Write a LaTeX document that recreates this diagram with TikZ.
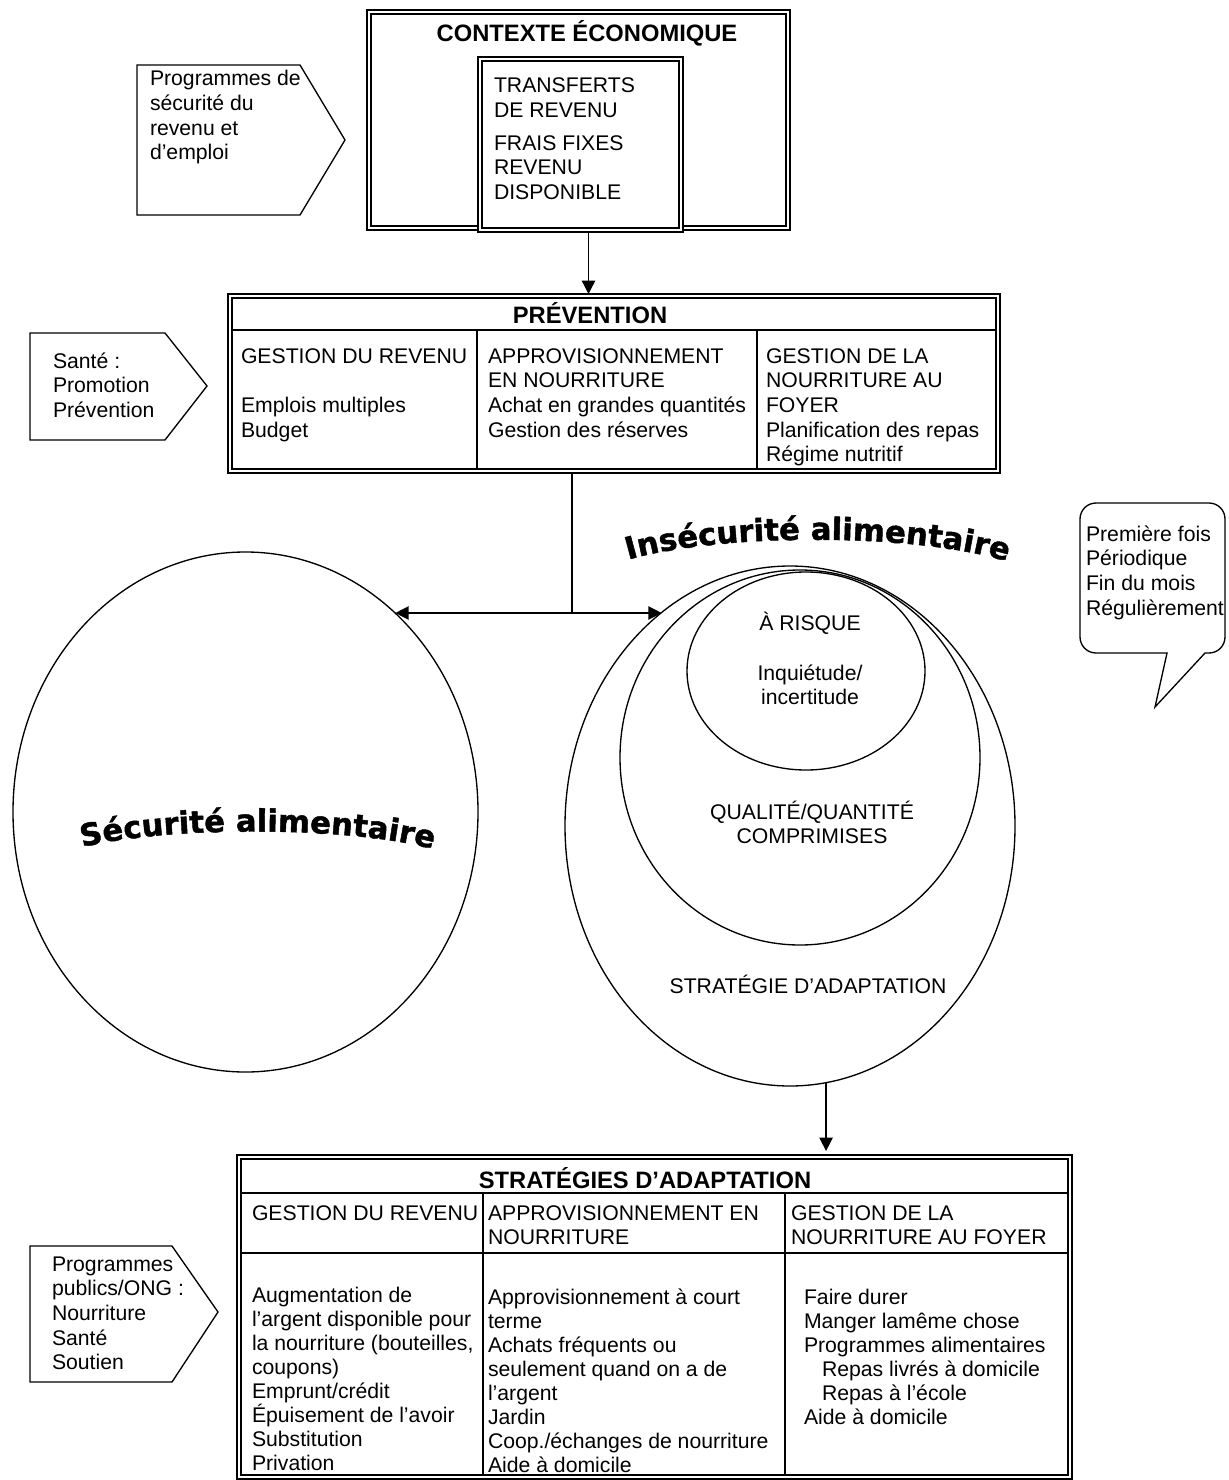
\documentclass[tikz,border=0pt]{standalone}
\usepackage{fontspec}
\setmainfont{Liberation Sans}
\newfontfamily\curvefont[FakeBold=1.5]{DejaVu Sans Bold}
\usetikzlibrary{arrows.meta,shapes.geometric,decorations.text,fit,calc}
\newcommand\bodyfont{\fontsize{15.9pt}{18.5pt}\selectfont}
\newcommand\tablefont{\fontsize{15.9pt}{18pt}\selectfont}
\newcommand\titlefont{\fontsize{17.8pt}{21pt}\selectfont\bfseries}
\newcommand\tstrut{\rule{0pt}{15pt}}
\begin{document}
\begin{tikzpicture}[x=0.75pt,y=-0.75pt,
  line/.style={line width=1pt},
  obox/.style={draw,line width=2.2pt,inner sep=0pt,outer sep=0pt},
  inline/.style={line width=0.9pt},
  arr/.style={line width=1pt,-{Triangle[length=10pt,width=10pt]}},
  body/.style={font=\bodyfont,inner sep=0pt,outer sep=0pt,align=left,anchor=north west},
  tbody/.style={font=\tablefont,inner sep=0pt,outer sep=0pt,align=left,anchor=north west},
  cbody/.style={font=\bodyfont,inner sep=0pt,outer sep=0pt,align=center,anchor=north},
  ttl/.style={font=\titlefont,inner sep=0pt,outer sep=0pt,anchor=base},
  circ/.style={draw,ellipse,line width=1pt,inner sep=0pt,outer sep=0pt},
  curved/.style={decorate,decoration={text along path,text align=center,
    text={|\curvefont\fontsize{23pt}{23pt}\selectfont|#1}}}]
\useasboundingbox (0,0) rectangle (1228,1480);

% ---------- top box ----------
\node[obox,fit={(367,10) (790,230)}] (ctx) {};
\draw[inline] ([shift={(4,4)}]ctx.north west) rectangle ([shift={(-4,-4)}]ctx.south east);
\node[ttl] (tctx) at (587,42) {CONTEXTE ÉCONOMIQUE};
\node[obox,fill=white,fit={(478,57) (683,232)}] (inbox) {};
\draw[inline] ([shift={(4,4)}]inbox.north west) rectangle ([shift={(-4,-4)}]inbox.south east);
\node[body] (tin) at (494,73) {\tstrut TRANSFERTS\\DE REVENU\\[6pt]FRAIS FIXES\\REVENU\\DISPONIBLE};

% pentagon 1
\draw[line] (137,65) -- (300,65) -- (345,140) -- (300,215) -- (137,215) -- cycle;
\node[body] (tp1) at (150,66) {\tstrut Programmes de\\sécurité du\\revenu et\\d’emploi};

% ---------- prevention ----------
\node[obox,fit={(228,294) (1000,473)}] (prev) {};
\draw[inline] ([shift={(4,4)}]prev.north west) rectangle ([shift={(-4,-4)}]prev.south east);
\draw[inline] (232,330) -- (996,330);
\draw[inline] (477,330) -- (477,469);
\draw[inline] (757,330) -- (757,469);
\node[ttl] (tprev) at (590,323) {PRÉVENTION};
\node[body] (pc1) at (241,343) {\tstrut GESTION DU REVENU\\[18.5pt]Emplois multiples\\Budget};
\node[body] (pc2) at (488,343) {\tstrut APPROVISIONNEMENT\\EN NOURRITURE\\Achat en grandes quantités\\Gestion des réserves};
\node[body] (pc3) at (766,343) {\tstrut GESTION DE LA\\NOURRITURE AU\\FOYER\\Planification des repas\\Régime nutritif};

% pentagon 2
\draw[line] (30,333) -- (165,333) -- (207,386) -- (165,440) -- (30,440) -- cycle;
\node[body] (tp2) at (53,348) {\tstrut Santé :\\Promotion\\Prévention};

\draw[arr] ([xshift=6pt]inbox.south) -- ([xshift=6pt]inbox.south |- prev.north);

% ---------- circles ----------
\node[circ,minimum width=348.75pt,minimum height=390pt] (lc) at (245.5,812) {};
\node[circ,minimum width=337.5pt,minimum height=390pt] (oc) at (790,826) {};
\node[circ,minimum width=270pt,minimum height=281.25pt] (mc) at (800,757.5) {};
\node[circ,minimum width=178.5pt,minimum height=148.5pt] (ic) at (806,671) {};

\coordinate (jn) at (572,613);
\draw[line] (jn |- prev.south) -- (jn);
\draw[arr] (jn) -- (jn -| lc.53);
\draw[arr] (jn) -- (jn -| oc.121);

\path[curved={Sécurité alimentaire}]
  (72,850) .. controls (155,825) and (360,825) .. (443,852);
\path[curved={Insécurité alimentaire}]
  (605,568) .. controls (690,530) and (945,530) .. (1030,570);

\node[font=\bodyfont,inner sep=0pt,anchor=base] (trisk) at (810,630) {À RISQUE};
\node[cbody] (tinq) at (810,660) {\tstrut Inquiétude/\\incertitude};
\node[cbody] (tqual) at (812,799) {\tstrut QUALITÉ/QUANTITÉ\\COMPRIMISES};
\node[font=\bodyfont,inner sep=0pt,anchor=base] (tstrat) at (808,993) {STRATÉGIE D’ADAPTATION};

% ---------- speech bubble ----------
\draw[line] (1080,637) -- (1080,519) arc[start angle=180,end angle=270,radius=16]
  -- (1209,503) arc[start angle=270,end angle=360,radius=16]
  -- (1225,637) arc[start angle=0,end angle=90,radius=16]
  -- (1205,653) -- (1155,707) -- (1167,653)
  -- (1096,653) arc[start angle=90,end angle=180,radius=16] -- cycle;
\node[body] (tbub) at (1086,521) {\tstrut Première fois\\Périodique\\Fin du mois\\Régulièrement};

% ---------- strategies table ----------
\node[obox,fit={(237,1155) (1072,1479)}] (strat) {};
\draw[inline] ([shift={(4,4)}]strat.north west) rectangle ([shift={(-4,-4)}]strat.south east);
\draw[inline] (241,1193) -- (1068,1193);
\draw[inline] (241,1253) -- (1068,1253);
\draw[inline] (483,1193) -- (483,1475);
\draw[inline] (785,1193) -- (785,1475);
\node[ttl] (tstr) at (645,1188) {STRATÉGIES D’ADAPTATION};
\node[body] (h1) at (252,1200) {\tstrut GESTION DU REVENU};
\node[body] (h2) at (488,1200) {\tstrut APPROVISIONNEMENT EN\\NOURRITURE};
\node[body] (h3) at (791,1200) {\tstrut GESTION DE LA\\NOURRITURE AU FOYER};
\node[tbody] (b1) at (252,1282) {\tstrut Augmentation de\\l’argent disponible pour\\la nourriture (bouteilles,\\coupons)\\Emprunt/crédit\\Épuisement de l’avoir\\Substitution\\Privation};
\node[tbody] (b2) at (488,1284) {\tstrut Approvisionnement à court\\terme\\Achats fréquents ou\\seulement quand on a de\\l’argent\\Jardin\\Coop./échanges de nourriture\\Aide à domicile};
\node[tbody] (b3) at (804,1284) {\tstrut Faire durer\\Manger lamême chose\\Programmes alimentaires\\\hspace*{13.5pt}Repas livrés à domicile\\\hspace*{13.5pt}Repas à l’école\\Aide à domicile};

% pentagon 3
\draw[line] (30,1246) -- (172,1246) -- (218,1312) -- (172,1382) -- (30,1382) -- cycle;
\node[body] (tp3) at (52,1251) {\tstrut Programmes\\publics/ONG :\\Nourriture\\Santé\\Soutien};

\draw[arr,shorten >=3pt] (oc.278) -- (oc.278 |- strat.north);
\end{tikzpicture}
\end{document}
